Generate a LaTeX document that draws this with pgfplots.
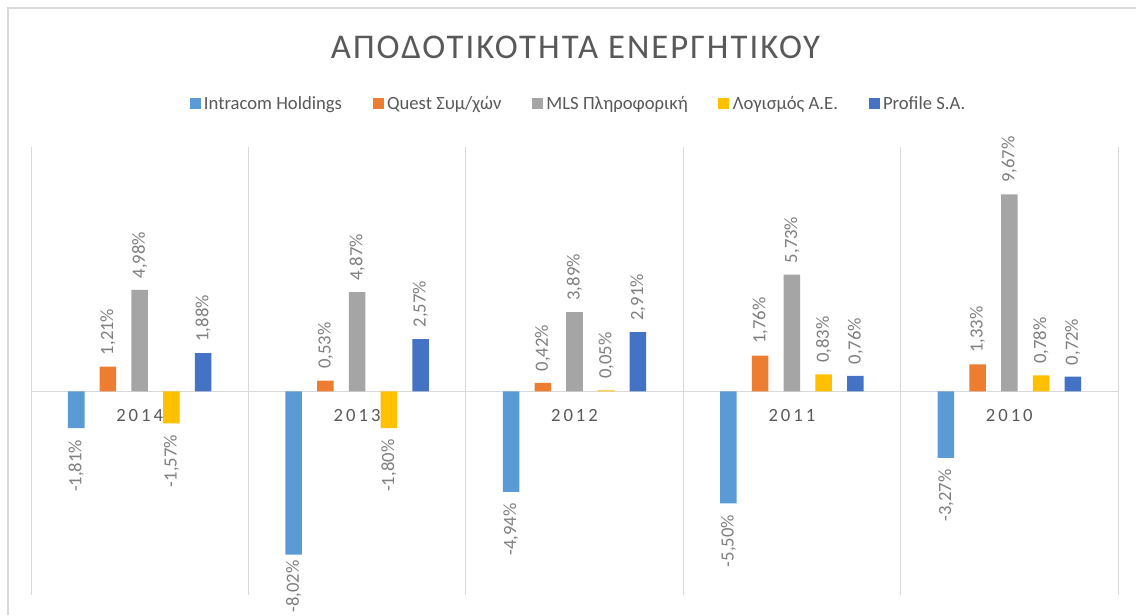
\documentclass[border=0pt]{standalone}
\usepackage{fontspec}
\setmainfont{Carlito}
\usepackage{pgfplots}
\pgfplotsset{compat=1.18}
\definecolor{cA}{HTML}{5B9BD5}
\definecolor{cB}{HTML}{ED7D31}
\definecolor{cC}{HTML}{A5A5A5}
\definecolor{cD}{HTML}{FFC000}
\definecolor{cE}{HTML}{4472C4}
\definecolor{gridgray}{HTML}{D9D9D9}
\definecolor{titlegray}{HTML}{595959}
\definecolor{labelgray}{HTML}{7F7F7F}
\begin{document}
\begin{tikzpicture}
\useasboundingbox (0,0) rectangle (852pt,461.25pt);
\fill[white] (0,0) rectangle (852pt,461.25pt);
\draw[gridgray, line width=1.5pt] (5.8pt,0) -- (5.8pt,455.5pt) -- (852pt,455.5pt);
\begin{axis}[
  at={(23.25pt,15pt)}, anchor=south west,
  scale only axis, width=815.25pt, height=336pt,
  xmin=0.5, xmax=5.5, ymin=-10, ymax=12,
  axis x line=middle, axis y line=none,
  x axis line style={-, draw=gridgray, line width=0.75pt},
  xtick={1,2,3,4,5}, xticklabels={2014,2013,2012,2011,2010},
  minor xtick={0.5,1.5,2.5,3.5,4.5,5.5},
  xminorgrids, xmajorgrids=false,
  minor grid style={gridgray, line width=0.75pt},
  major tick length=0pt, minor tick length=0pt,
  xticklabel style={font=\fontsize{14}{16}\selectfont\addfontfeature{LetterSpace=16}, text=titlegray, anchor=north, yshift=-10pt},
  ybar=11.4pt, bar width=12.4pt,
  title={ΑΠΟΔΟΤΙΚΟΤΗΤΑ ΕΝΕΡΓΗΤΙΚΟΥ},
  title style={font=\fontsize{26}{30}\selectfont\addfontfeature{LetterSpace=6}, text=titlegray, at={(0.5,1)}, anchor=base, yshift=60.2pt, xshift=0.75pt},
  legend columns=5,
  legend style={at={(0.5,1)}, anchor=center, yshift=32.25pt, xshift=2.25pt, draw=none, fill=none,
    font=\fontsize{14}{16}\selectfont, text=titlegray,
    nodes={inner sep=0pt},
    /tikz/every odd column/.append style={column sep=2.5pt},
    /tikz/every even column/.append style={column sep=23pt}},
  legend image code/.code={\draw[#1,draw=none] (0pt,-4.125pt) rectangle (8.25pt,4.125pt);},
  visualization depends on={rawy \as \rawy},
  nodes near coords={\pgfmathprintnumber[assume math mode=true,fixed,fixed zerofill,precision=2,use comma]{\pgfplotspointmeta}\%},
  every node near coord/.append style={rotate=90, font=\fontsize{14}{16}\selectfont, text=labelgray, inner ysep=0pt,
    /utils/exec={\ifdim\rawy pt<0pt\gdef\myanc{east}\else\gdef\myanc{west}\fi
                 \ifdim\rawy pt<-7pt\gdef\mysep{4pt}\else\gdef\mysep{8.5pt}\fi},
    anchor=\myanc, inner xsep=\mysep},
]
\addplot[fill=cA, draw=none] coordinates {(1,-1.81) (2,-8.02) (3,-4.94) (4,-5.50) (5,-3.27)};
\addplot[fill=cB, draw=none] coordinates {(1,1.21) (2,0.53) (3,0.42) (4,1.76) (5,1.33)};
\addplot[fill=cC, draw=none] coordinates {(1,4.98) (2,4.87) (3,3.89) (4,5.73) (5,9.67)};
\addplot[fill=cD, draw=none] coordinates {(1,-1.57) (2,-1.80) (3,0.05) (4,0.83) (5,0.78)};
\addplot[fill=cE, draw=none] coordinates {(1,1.88) (2,2.57) (3,2.91) (4,0.76) (5,0.72)};
\legend{Intracom Holdings, Quest Συμ/χών, MLS Πληροφορική, Λογισμός Α.Ε., Profile S.A.}
\end{axis}
\end{tikzpicture}
\end{document}
